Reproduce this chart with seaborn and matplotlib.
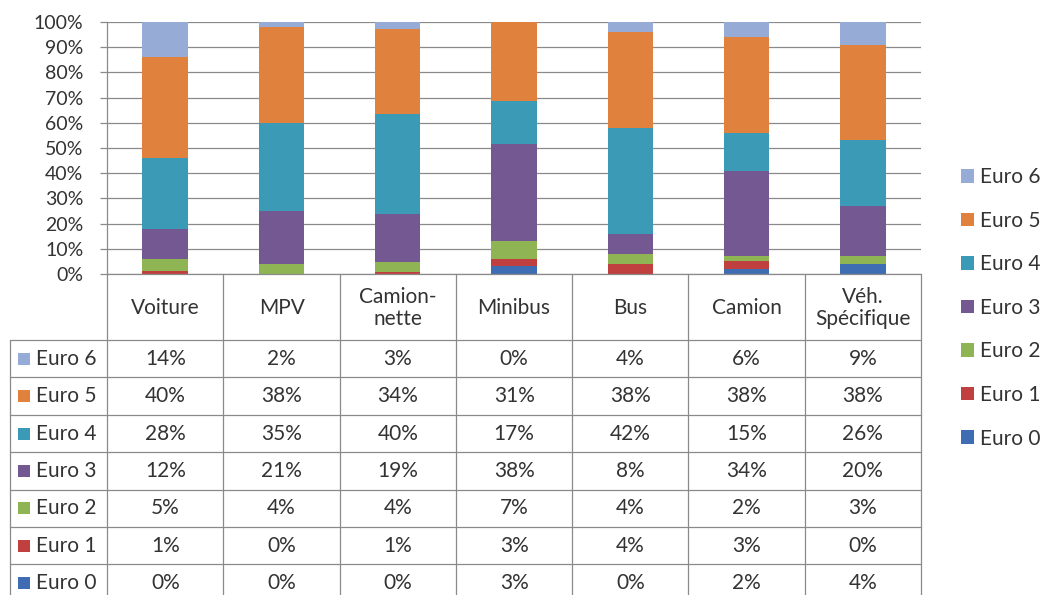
import numpy as np
import pandas as pd
import matplotlib
matplotlib.use("Agg")
import matplotlib.pyplot as plt
import seaborn as sns
from matplotlib.patches import Patch, Rectangle

# Data (percent)
categories = ["Voiture", "MPV", "Camionnette", "Minibus", "Bus", "Camion", "Véh. Spécifique"]
header_labels = ["Voiture", "MPV", "Camion-\nnette", "Minibus", "Bus", "Camion", "Véh.\nSpécifique"]
series = ["Euro 0", "Euro 1", "Euro 2", "Euro 3", "Euro 4", "Euro 5", "Euro 6"]
euro0 = [0, 0, 0, 3, 0, 2, 4]
euro1 = [1, 0, 1, 3, 4, 3, 0]
euro2 = [5, 4, 4, 7, 4, 2, 3]
euro3 = [12, 21, 19, 38, 8, 34, 20]
euro4 = [28, 35, 40, 17, 42, 15, 26]
euro5 = [40, 38, 34, 31, 38, 38, 38]
euro6 = [14, 2, 3, 0, 4, 6, 9]
values = [euro0, euro1, euro2, euro3, euro4, euro5, euro6]

colors = {
    "Euro 0": "#3f6db3",
    "Euro 1": "#c0403f",
    "Euro 2": "#8fb454",
    "Euro 3": "#735891",
    "Euro 4": "#3b9bb6",
    "Euro 5": "#e0823d",
    "Euro 6": "#96abd5",
}

sns.set_theme(style="white")
plt.rcParams['font.family'] = ['Lato', 'DejaVu Sans']
text_col = "#333333"
grid_col = "#8a8a8a"
fs_tick = 14
fs = 15

rows = []
for s, vals in zip(series, values):
    for c, v in zip(categories, vals):
        rows.append({"category": c, "series": s, "value": v})
df = pd.DataFrame(rows)
df["total"] = df.groupby("category")["value"].transform("sum")
df["share"] = df["value"] / df["total"] * 100
df["series"] = pd.Categorical(df["series"], categories=series, ordered=True)
df = df.sort_values(["category", "series"])
df["cum"] = df.groupby("category")["share"].cumsum()

fig = plt.figure(figsize=(10.42, 5.95), dpi=100)
W, H = 1042, 595
x0, x1 = 107, 921
ytop, ybot = 22, 274
ax = fig.add_axes([x0 / W, 1 - ybot / H, (x1 - x0) / W, (ybot - ytop) / H])

# stacked look: draw cumulative bars from the top layer down
for s in series[::-1]:
    sub = df[df["series"] == s]
    sns.barplot(data=sub, x="category", y="cum", order=categories, color=colors[s],
                saturation=1, width=0.39, errorbar=None, linewidth=0, ax=ax)

ax.set_xlim(-0.5, 6.5)
ax.set_ylim(0, 100)
ax.set_yticks(np.arange(0, 101, 10))
ax.set_yticklabels([f"{t}%" for t in range(0, 101, 10)], fontsize=fs_tick, color=text_col)
ax.yaxis.grid(True, color=grid_col, linewidth=0.9)
ax.set_axisbelow(True)
ax.tick_params(axis="y", length=5, width=0.9, color=grid_col, pad=12, left=True)
ax.tick_params(axis="x", bottom=False, labelbottom=False)
ax.set_xlabel("")
ax.set_ylabel("")
for side in ["top", "right"]:
    ax.spines[side].set_visible(False)
for side in ["left", "bottom"]:
    ax.spines[side].set_color(grid_col)
    ax.spines[side].set_linewidth(0.9)

# Data table below the plot
label_w = (x0 - 10) / 116
tb_top, tb_bot = 274, 602
axt = fig.add_axes([10 / W, 1 - tb_bot / H, (x1 - 10) / W, (tb_bot - tb_top) / H])
axt.set_xlim(-0.5 - label_w, 6.5)
axt.set_ylim(tb_bot, tb_top)
axt.axis("off")

header_bot = 340
row_h = 37.4
row_edges = [header_bot + i * row_h for i in range(8)]
for y in row_edges:
    axt.plot([-0.5 - label_w, 6.5], [y, y], color=grid_col, lw=0.9, clip_on=False)
for i in range(8):
    axt.plot([i - 0.5, i - 0.5], [tb_top, tb_bot], color=grid_col, lw=0.9, clip_on=False)
axt.plot([-0.5 - label_w] * 2, [header_bot, tb_bot], color=grid_col, lw=0.9, clip_on=False)

for i, lab in enumerate(header_labels):
    axt.text(i, (tb_top + header_bot) / 2 + 1, lab, ha="center", va="center",
             fontsize=fs, color=text_col, linespacing=1.15)

for r, s in enumerate(series[::-1]):
    yc = row_edges[r] + row_h / 2
    vals = values[series.index(s)]
    sq = 12
    axt.add_patch(Rectangle((-0.5 - label_w + 8 / 116, yc - sq / 2), sq / 116, sq,
                            color=colors[s], lw=0))
    axt.text(-0.5 - label_w + 26 / 116, yc, s, ha="left", va="center",
             fontsize=fs, color=text_col)
    for i, v in enumerate(vals):
        axt.text(i, yc, f"{v}%", ha="center", va="center", fontsize=fs, color=text_col)

handles = [Patch(facecolor=colors[s], edgecolor="none", label=s) for s in series[::-1]]
fig.legend(handles=handles, loc="upper left", bbox_to_anchor=(953 / W, 1 - 159 / H),
           frameon=False, fontsize=fs, handlelength=0.62, handleheight=0.62,
           handletextpad=0.3, labelspacing=1.13, labelcolor=text_col, borderaxespad=0)

fig.savefig("out.png", dpi=100)
